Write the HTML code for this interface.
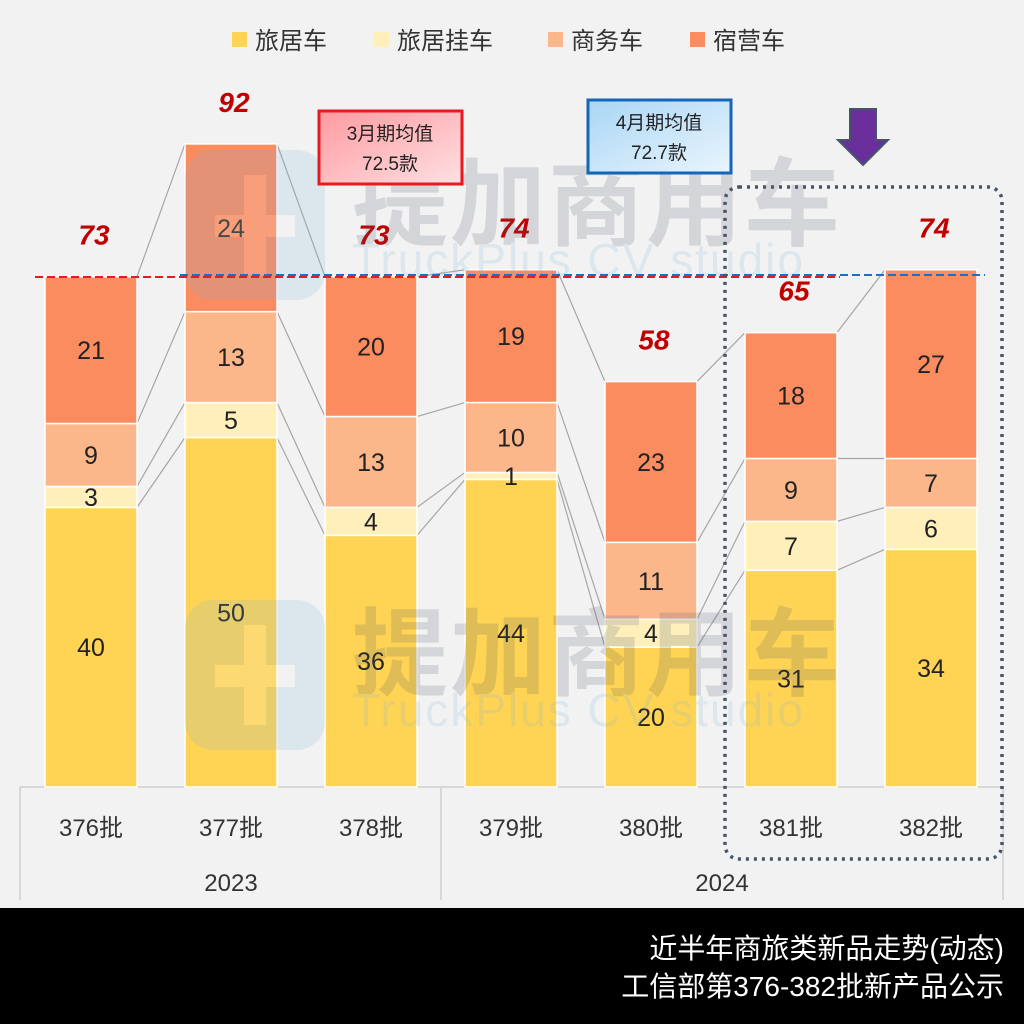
<!DOCTYPE html>
<html><head><meta charset="utf-8"><style>
body{margin:0;width:1024px;height:1024px;background:#f2f2f2;overflow:hidden;font-family:"Liberation Sans","Noto Sans CJK SC",sans-serif;}
svg{display:block}
</style></head><body>
<svg id="chart" width="1024" height="1024">
<rect x="0" y="0" width="1024" height="1024" fill="#f2f2f2"/>
<g id="legend"></g>
<g id="axis"></g>
<g id="links"></g>
<g id="bars"></g>
<g id="labels"></g>
<g id="wm" opacity="0.18"></g>
<line x1="35" y1="277" x2="840" y2="277" stroke="#e8191f" stroke-width="2" stroke-dasharray="8,4"/>
<line x1="180" y1="275" x2="985" y2="275" stroke="#1f6fbf" stroke-width="2" stroke-dasharray="8,4"/>
<defs>
<linearGradient id="gr" x1="0" y1="0" x2="1" y2="1"><stop offset="0" stop-color="#ff9aa0"/><stop offset="1" stop-color="#fde0e2"/></linearGradient>
<linearGradient id="gb" x1="0" y1="0" x2="1" y2="1"><stop offset="0" stop-color="#a9d6f5"/><stop offset="1" stop-color="#eaf5fd"/></linearGradient>
</defs>
<g>
<rect x="319" y="111" width="143" height="73" fill="url(#gr)" stroke="#e8191f" stroke-width="3"/>
<text x="390" y="140" text-anchor="middle" font-size="19" fill="#222">3月期均值</text>
<text x="390" y="170" text-anchor="middle" font-size="19" fill="#222">72.5款</text>
</g>
<g>
<rect x="588" y="100" width="143" height="73" fill="url(#gb)" stroke="#1565b8" stroke-width="3"/>
<text x="659" y="129" text-anchor="middle" font-size="19" fill="#222">4月期均值</text>
<text x="659" y="159" text-anchor="middle" font-size="19" fill="#222">72.7款</text>
</g>
<polygon points="850,109 876,109 876,140 888,140 863,165 838,140 850,140" fill="#6a2f9a" stroke="#44546a" stroke-width="2"/>
<rect x="725" y="187" width="277" height="672" rx="14" fill="none" stroke="#44546a" stroke-width="3.5" stroke-dasharray="3,5"/>
<rect x="0" y="908" width="1024" height="116" fill="#000"/>
<text x="1004" y="958" text-anchor="end" font-size="28" fill="#fff">近半年商旅类新品走势(动态)</text>
<text x="1004" y="996" text-anchor="end" font-size="28" fill="#fff">工信部第376-382批新产品公示</text>
</svg>
<script>
const categories=["376批","377批","378批","379批","380批","381批","382批"];
const seriesNames=["旅居车","旅居挂车","商务车","宿营车"];
const rv=[40,50,36,44,20,31,34];
const trailer=[3,5,4,1,4,7,6];
const business=[9,13,13,10,11,9,7];
const camper=[21,24,20,19,23,18,27];
const totals=[73,92,73,74,58,65,74];
const years=["2023","2024"];
const series=[rv,trailer,business,camper];
const colors=["#ffd454","#fff0bb","#fbb68a","#fa8c60"];
const NS="http://www.w3.org/2000/svg";
const base=787,unit=6.99,x0=91,step=140,bw=92;
const xc=i=>x0+i*step;
const yv=v=>base-v*unit;
function mk(tag,attrs,parent,txt){const e=document.createElementNS(NS,tag);for(const k in attrs)e.setAttribute(k,attrs[k]);if(txt!==undefined)e.textContent=txt;document.getElementById(parent).appendChild(e);return e;}
const lx=[232,374,548,690];
seriesNames.forEach((n,s)=>{
 const r=mk('rect',{x:lx[s],y:32,width:15,height:15,fill:colors[s]},'legend');
 
 
 const t=mk('text',{x:lx[s]+23,y:49,'font-size':24,fill:'#333'},'legend',n);
 
 
});
mk('line',{x1:20,y1:787,x2:1003,y2:787,stroke:'#d0d0d0','stroke-width':1.5},'axis');
[20,441,1003].forEach(x=>mk('line',{x1:x,y1:787,x2:x,y2:900,stroke:'#d0d0d0','stroke-width':1.5},'axis'));
categories.forEach((c,i)=>{const t=mk('text',{x:xc(i),y:836,'text-anchor':'middle','font-size':24,fill:'#333'},'axis',c);
 
 });
const yt1=mk('text',{x:231,y:891,'text-anchor':'middle','font-size':24,fill:'#333'},'axis',years[0]);


const yt2=mk('text',{x:722,y:891,'text-anchor':'middle','font-size':24,fill:'#333'},'axis',years[1]);


categories.forEach((c,i)=>{
 let cum=0;
 series.forEach((arr,s)=>{
  const v=arr[i];const y1=yv(cum),y2=yv(cum+v);
  const r=mk('rect',{x:xc(i)-bw/2,y:y2,width:bw,height:y1-y2,fill:colors[s],stroke:'#fff','stroke-width':1.5},'bars');
  
  
  const t=mk('text',{x:xc(i),y:(y1+y2)/2+9,'text-anchor':'middle','font-size':25,fill:'#222'},'labels',String(v));
  
  
  cum+=v;
  if(i<categories.length-1){
   let nc=0;for(let k=0;k<=s;k++)nc+=series[k][i+1];
   mk('line',{x1:xc(i)+bw/2,y1:yv(cum),x2:xc(i+1)-bw/2,y2:yv(nc),stroke:'#a6a6a6','stroke-width':1.2},'links');
  }
 });
 const tt=mk('text',{x:xc(i)+3,y:yv(totals[i])-32,'text-anchor':'middle','font-size':28,'font-weight':'bold','font-style':'italic',fill:'#c00000'},'labels',String(totals[i]));
 
 
});
[[150,195],[600,645]].forEach(([y,ty])=>{
 mk('rect',{x:185,y:y,width:140,height:150,rx:28,fill:'#7fb2d8'},'wm');
 mk('rect',{x:215,y:y+65,width:80,height:22,fill:'#f2f2f2'},'wm');
 mk('rect',{x:244,y:y+25,width:22,height:100,fill:'#f2f2f2'},'wm');
 mk('text',{x:352,y:y+88,'font-size':96,'font-weight':'bold',fill:'#505868','letter-spacing':'2'},'wm','提加商用车');
 mk('text',{x:352,y:y+126,'font-size':46,fill:'#7fb2d8','letter-spacing':'2'},'wm','TruckPlus CV studio');
});
</script>
</body></html>
